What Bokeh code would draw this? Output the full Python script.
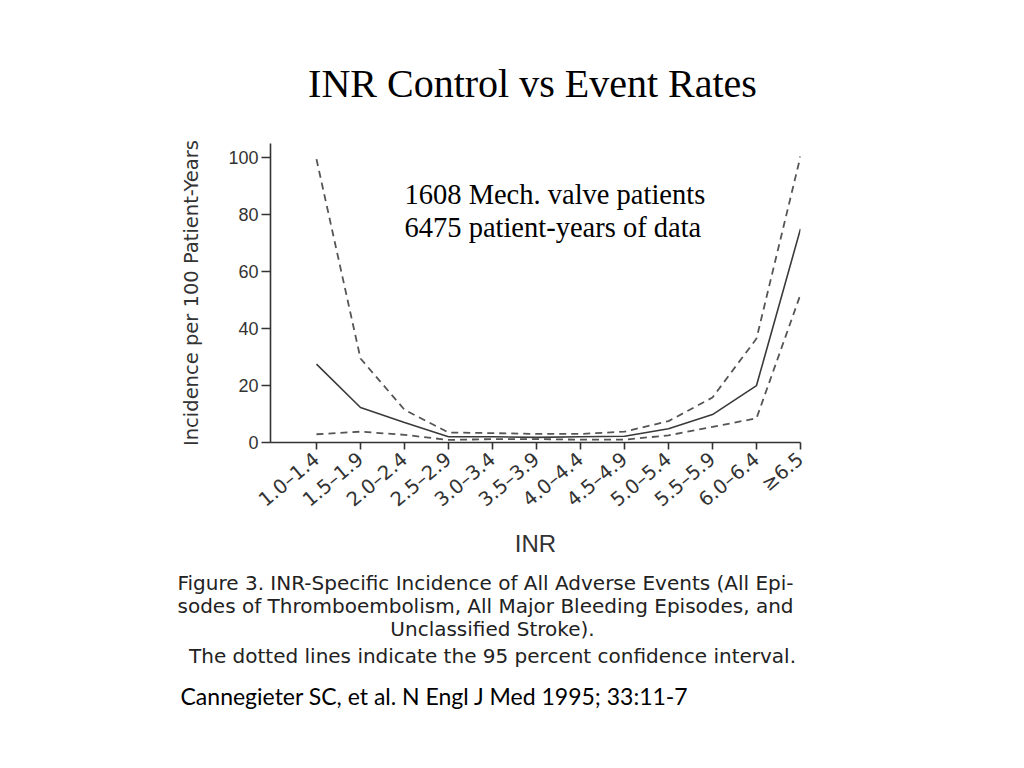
import math
from bokeh.plotting import figure
from bokeh.models import Range1d, FixedTicker, Label
from bokeh.layouts import column
from bokeh.embed import file_html
from bokeh.resources import INLINE

categories = ["1.0–1.4", "1.5–1.9", "2.0–2.4", "2.5–2.9", "3.0–3.4", "3.5–3.9",
              "4.0–4.4", "4.5–4.9", "5.0–5.4", "5.5–5.9", "6.0–6.4", "≥6.5"]
incidence = [27.5, 12.3, 7.0, 2.0, 2.0, 1.8, 2.0, 2.2, 4.8, 9.8, 20.0, 75.0]
ci_upper = [99.5, 29.5, 11.5, 3.5, 3.3, 3.0, 3.0, 3.8, 7.5, 15.8, 36.5, 100.5]
ci_lower = [2.9, 3.8, 2.7, 0.9, 1.2, 1.2, 1.0, 1.0, 2.5, 5.5, 8.5, 52.0]
y_ticks = [0, 20, 40, 60, 80, 100]

title_text = "INR Control vs Event Rates"
note_lines = ["1608 Mech. valve patients", "6475 patient-years of data"]
caption_lines = [
    "Figure 3. INR-Specific Incidence of All Adverse Events (All Epi-",
    "sodes of Thromboembolism, All Major Bleeding Episodes, and",
    "Unclassified Stroke).",
    "The dotted lines indicate the 95 percent confidence interval.",
]
citation = "Cannegieter SC, et al. N Engl J Med 1995; 33:11-7"

xs = list(range(len(categories)))

W = 1008
TOP_H, MAIN_H, BOT_H = 118, 442, 192  # page rows: 0-118, 118-560, 560-752
FRAME_TOP, FRAME_BOTTOM, FRAME_LEFT, FRAME_RIGHT = 143, 443, 270, 800


def blank_fig(h):
    f = figure(width=W, height=h, output_backend="svg", toolbar_location=None,
               x_axis_type=None, y_axis_type=None, title=None,
               x_range=Range1d(0, 1), y_range=Range1d(0, 1),
               min_border=0, min_border_left=0, min_border_right=0,
               min_border_top=0, min_border_bottom=0, frame_align=False)
    f.outline_line_color = None
    f.xgrid.grid_line_color = None
    f.ygrid.grid_line_color = None
    return f


def add_text(f, fig_left, fig_bottom, text, px, py, size, font, align="left", color="black"):
    f.add_layout(Label(x=px - fig_left, y=fig_bottom - py, x_units="screen", y_units="screen",
                       text=text, text_font=font, text_font_size=size,
                       text_align=align, text_baseline="middle", text_color=color))


# --- top: title ---
top = blank_fig(TOP_H)
add_text(top, 0, TOP_H, title_text, 532, 83, "40px", "Liberation Serif", "center")

# --- main chart ---
p = figure(width=W, height=MAIN_H, output_backend="svg", toolbar_location=None, title=None,
           x_range=Range1d(-1.045, 11.0), y_range=Range1d(0, 105),
           min_border_left=FRAME_LEFT, min_border_right=W - FRAME_RIGHT,
           min_border_top=FRAME_TOP - TOP_H, min_border_bottom=TOP_H + MAIN_H - FRAME_BOTTOM,
           frame_align=False)
p.outline_line_color = None
p.xgrid.grid_line_color = None
p.ygrid.grid_line_color = None

AX = "#333333"
for ax in (p.xaxis[0], p.yaxis[0]):
    ax.axis_line_color = AX
    ax.axis_line_width = 1.6
    ax.major_tick_line_color = AX
    ax.major_tick_line_width = 1.6
    ax.major_tick_in = 0
    ax.minor_tick_line_color = None
    ax.major_label_text_font = "Liberation Sans"
    ax.major_label_text_font_size = "18px"
    ax.major_label_text_color = AX
    ax.axis_label_text_font = "Liberation Sans"
    ax.axis_label_text_font_style = "normal"
    ax.axis_label_text_color = AX

p.yaxis.ticker = FixedTicker(ticks=y_ticks)
p.yaxis.major_tick_out = 9
p.yaxis.major_label_standoff = 3
p.yaxis.axis_label = "Incidence per 100 Patient-Years"
p.yaxis.axis_label_text_font = "DejaVu Sans"
p.yaxis.axis_label_text_font_size = "19.5px"
p.yaxis.axis_label_standoff = 22

p.xaxis.ticker = FixedTicker(ticks=xs)
p.xaxis.major_label_overrides = {i: c for i, c in zip(xs, categories)}
p.xaxis.major_tick_out = 7
p.xaxis.major_label_orientation = math.radians(40)
p.xaxis.major_label_text_font = "DejaVu Sans"
p.xaxis.major_label_text_font_size = "19.5px"
p.xaxis.major_label_standoff = 7
p.xaxis.axis_label = "INR"
p.xaxis.axis_label_text_font_size = "24px"
p.xaxis.axis_label_standoff = 7

p.line(xs, ci_upper, line_color="#555555", line_width=1.8, line_dash="7 5")
p.line(xs, ci_lower, line_color="#555555", line_width=1.8, line_dash="7 5")
p.line(xs, incidence, line_color="#3a3a3a", line_width=1.6)

# note inside the frame
add_text(p, FRAME_LEFT, FRAME_BOTTOM, note_lines[0], 404, 195, "28.5px", "Liberation Serif")
add_text(p, FRAME_LEFT, FRAME_BOTTOM, note_lines[1], 404, 228, "28.5px", "Liberation Serif")

# --- bottom: caption + citation ---
bot = blank_fig(BOT_H)
BB = 752
CAP = "#222222"
add_text(bot, 0, BB, caption_lines[0], 177, 582, "20px", "DejaVu Sans", color=CAP)
add_text(bot, 0, BB, caption_lines[1], 177, 605, "20px", "DejaVu Sans", color=CAP)
add_text(bot, 0, BB, caption_lines[2], 492, 628, "20px", "DejaVu Sans", "center", color=CAP)
add_text(bot, 0, BB, caption_lines[3], 492, 655, "20px", "DejaVu Sans", "center", color=CAP)
add_text(bot, 0, BB, citation, 180, 695, "23px", "Lato")

layout = column(top, p, bot, spacing=0)
open("out.html", "w").write(file_html(layout, INLINE))
